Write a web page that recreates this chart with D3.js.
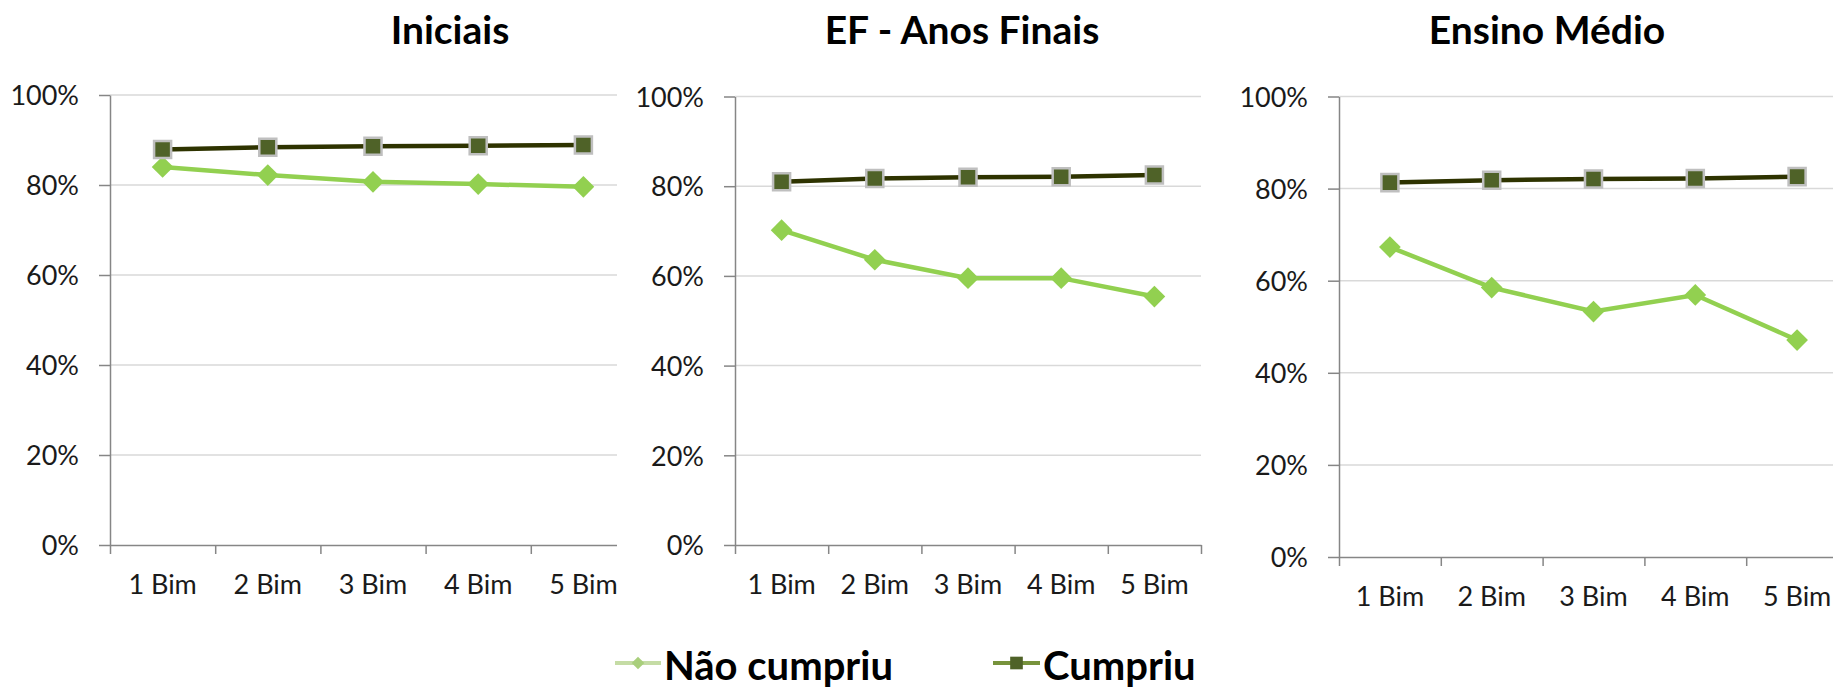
<!DOCTYPE html>
<html>
<head>
<meta charset="utf-8">
<script src="https://cdn.jsdelivr.net/npm/d3@7"></script>
<style>
  body { margin: 0; background: #fff; }
  svg { display: block; font-family: Lato, "Open Sans", sans-serif; }
</style>
</head>
<body>
<div id="chart"></div>
<script>
// Categories and tick values
var categories = ["1 Bim", "2 Bim", "3 Bim", "4 Bim", "5 Bim"];
var yTicks = [0, 0.2, 0.4, 0.6, 0.8, 1];
var titles = ["Iniciais", "EF - Anos Finais", "Ensino Médio"];
var seriesNames = ["Não cumpriu", "Cumpriu"];

// Series values (share of schools)
var naoIniciais  = [0.840, 0.822, 0.807, 0.802, 0.796];
var cumpIniciais = [0.879, 0.884, 0.886, 0.887, 0.889];
var naoFinais    = [0.702, 0.636, 0.595, 0.595, 0.554];
var cumpFinais   = [0.810, 0.817, 0.820, 0.821, 0.825];
var naoMedio     = [0.673, 0.585, 0.533, 0.569, 0.471];
var cumpMedio    = [0.813, 0.818, 0.821, 0.822, 0.826];

// Layout of the three small charts
var panels = [
  {title: titles[0], nao: naoIniciais, cump: cumpIniciais, left: 110, right: 636, top: 95, bottom: 545, clipRight: 617, titleX: 450},
  {title: titles[1], nao: naoFinais,   cump: cumpFinais,   left: 735, right: 1201, top: 96.5, bottom: 545, clipRight: 1833, titleX: 962},
  {title: titles[2], nao: naoMedio,    cump: cumpMedio,    left: 1339, right: 1848, top: 96.5, bottom: 557, clipRight: 1833, titleX: 1547}
];

var colNao = "#92d050",
    colCumpLine = "#2e3300",
    colCumpMarker = "#4f6228",
    colMarkerBorder = "#bfbfbf",
    colGrid = "#d9d9d9",
    colAxis = "#868686",
    fontFam = "Lato, 'Open Sans', sans-serif";

var svg = d3.select("#chart")
  .append("svg")
    .attr("width", 1833)
    .attr("height", 688);

var defs = svg.append("defs");

var diamond = d3.symbol().type(d3.symbolSquare).size(236);
var square = d3.symbol().type(d3.symbolSquare).size(290);

panels.forEach(function(p, pi) {
  // clip so the first chart is cut by the second, as in the original
  defs.append("clipPath").attr("id", "clip" + pi)
    .append("rect")
      .attr("x", 0).attr("y", 0)
      .attr("width", p.clipRight).attr("height", 688);

  var g = svg.append("g").attr("clip-path", "url(#clip" + pi + ")");

  var x = d3.scaleBand().domain(categories).range([p.left, p.right]);
  var xEdge = d3.scaleLinear().domain([0, categories.length]).range([p.left, p.right]);
  var y = d3.scaleLinear().domain([0, 1]).range([p.bottom, p.top]);

  // Title
  g.append("text")
    .attr("x", p.titleX)
    .attr("y", 44)
    .attr("text-anchor", "middle")
    .style("font-weight", "bold")
    .style("font-size", "39px")
    .style("fill", "#000")
    .text(p.title);

  // Gridlines
  g.selectAll(".grid")
    .data(yTicks.slice(1))
    .enter().append("line")
      .attr("x1", p.left).attr("x2", p.right)
      .attr("y1", function(d) { return y(d); })
      .attr("y2", function(d) { return y(d); })
      .style("stroke", colGrid)
      .style("stroke-width", 1.5);

  // Y axis
  var yAxis = g.append("g")
    .attr("transform", "translate(" + p.left + ",0)")
    .call(d3.axisLeft(y).tickValues(yTicks).tickFormat(d3.format(".0%")).tickSize(11).tickSizeOuter(0).tickPadding(20));
  yAxis.selectAll("path, line").style("stroke", colAxis).style("stroke-width", 1.5);
  yAxis.selectAll("text")
    .style("font-family", fontFam).style("font-size", "27px").style("fill", "#1a1a1a")
    .attr("dy", "0.36em");

  // X axis (ticks between categories)
  var xAxis = g.append("g")
    .attr("transform", "translate(0," + p.bottom + ")")
    .call(d3.axisBottom(xEdge).tickValues(d3.range(categories.length + 1)).tickFormat("").tickSize(9).tickSizeOuter(0));
  xAxis.selectAll("path, line").style("stroke", colAxis).style("stroke-width", 1.5);

  var xLabels = g.append("g")
    .attr("transform", "translate(0," + p.bottom + ")")
    .call(d3.axisBottom(x).tickSize(0).tickPadding(30));
  xLabels.select(".domain").remove();
  xLabels.selectAll("text")
    .style("font-family", fontFam).style("font-size", "27px").style("fill", "#1a1a1a");

  var cx = function(d, i) { return x(categories[i]) + x.bandwidth() / 2; };
  var line = d3.line().x(cx).y(function(d) { return y(d); });

  // Não cumpriu
  g.append("path")
    .datum(p.nao)
    .attr("d", line)
    .style("fill", "none")
    .style("stroke", colNao)
    .style("stroke-width", 4.5);
  g.selectAll(".nao")
    .data(p.nao)
    .enter().append("path")
      .attr("d", diamond)
      .attr("transform", function(d, i) { return "translate(" + cx(d, i) + "," + y(d) + ") rotate(45)"; })
      .style("fill", colNao);

  // Cumpriu
  g.append("path")
    .datum(p.cump)
    .attr("d", line)
    .style("fill", "none")
    .style("stroke", colCumpLine)
    .style("stroke-width", 4.5);
  g.selectAll(".cump")
    .data(p.cump)
    .enter().append("path")
      .attr("d", square)
      .attr("transform", function(d, i) { return "translate(" + cx(d, i) + "," + y(d) + ")"; })
      .style("fill", colCumpMarker)
      .style("stroke", colMarkerBorder)
      .style("stroke-width", 2.5);
});

// Legend
var legendItems = [
  {name: seriesNames[0], x1: 615, x2: 661, lineCol: "#c5dca5", markCol: "#a9cf7c", shape: "diamond"},
  {name: seriesNames[1], x1: 993, x2: 1040, lineCol: "#77933c", markCol: "#4f6228", shape: "square"}
];
var legend = svg.append("g");
legendItems.forEach(function(d) {
  var ly = 663;
  legend.append("line")
    .attr("x1", d.x1).attr("x2", d.x2)
    .attr("y1", ly).attr("y2", ly)
    .style("stroke", d.lineCol)
    .style("stroke-width", 4);
  legend.append("path")
    .attr("d", d3.symbol().type(d3.symbolSquare).size(d.shape === "diamond" ? 80 : 160))
    .attr("transform", "translate(" + (d.x1 + d.x2) / 2 + "," + ly + ")" + (d.shape === "diamond" ? " rotate(45)" : ""))
    .style("fill", d.markCol);
  legend.append("text")
    .attr("x", d.x2 + 3)
    .attr("y", 680)
    .style("font-weight", "bold")
    .style("font-size", "40px")
    .style("fill", "#000")
    .text(d.name);
});
</script>
</body>
</html>
